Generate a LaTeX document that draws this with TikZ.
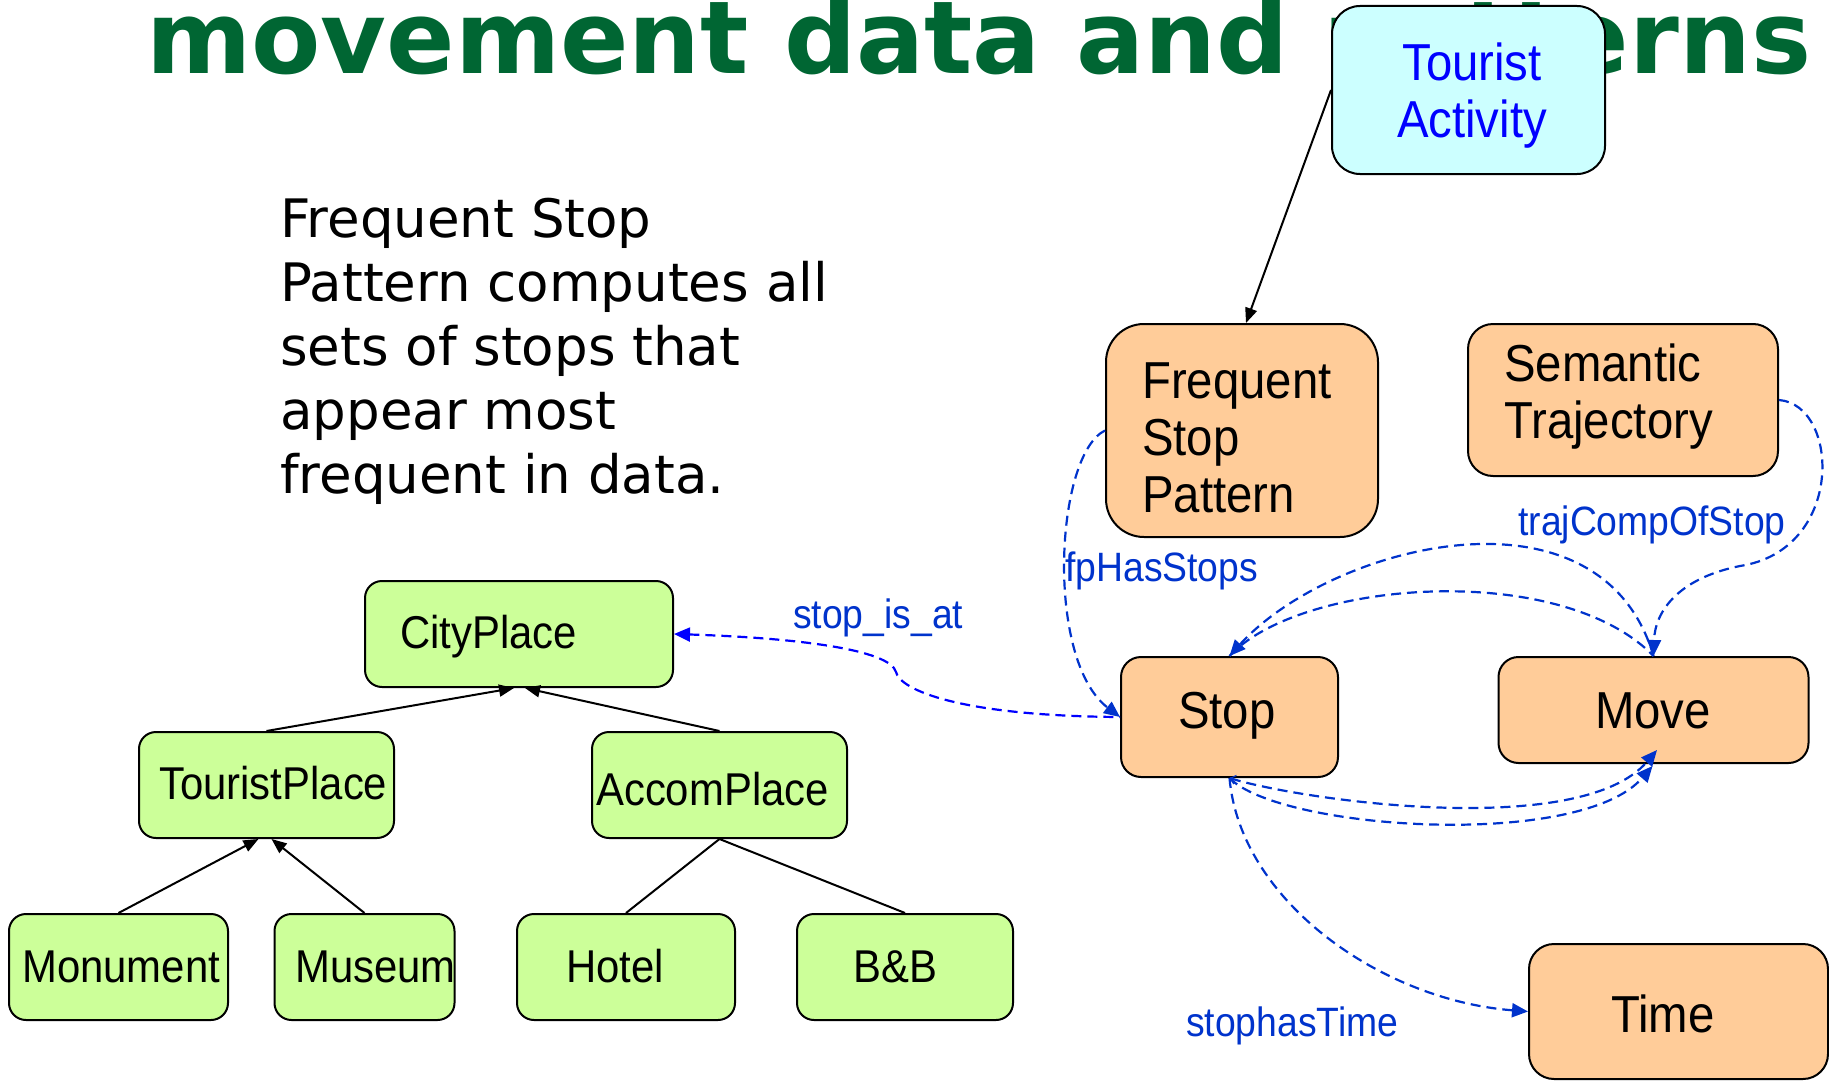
\documentclass[tikz,border=0pt]{standalone}
\usepackage{fontspec}
\setmainfont{DejaVu Sans}
\newfontfamily\nf[FakeStretch=0.91]{Liberation Sans}
\usetikzlibrary{arrows.meta,calc}
\definecolor{gfill}{RGB}{204,255,153}
\definecolor{ofill}{RGB}{255,204,153}
\definecolor{cfill}{RGB}{204,255,255}
\definecolor{tgreen}{RGB}{0,102,51}
\definecolor{lblue}{RGB}{0,51,204}
\definecolor{pblue}{RGB}{0,0,255}
\begin{document}
\begin{tikzpicture}[x=1pt,y=-1pt,
  box/.style={draw=black, line width=2pt, rectangle, inner sep=0pt},
  gbox/.style={box, fill=gfill, rounded corners=17pt, minimum height=106pt},
  obox/.style={box, fill=ofill},
  ntxt/.style={font=\nf\fontsize{52}{57}\selectfont, inner sep=0pt, align=left},
  gtxt/.style={font=\nf\fontsize{46}{50}\selectfont, inner sep=0pt, anchor=base west},
  lbl/.style={font=\nf\fontsize{41}{45}\selectfont, text=lblue, inner sep=0pt, anchor=base west},
  rel/.style={draw=lblue, line width=2.2pt, dash pattern=on 10pt off 6pt},
  btip/.style={-{Triangle[length=16pt,width=14pt]}},
  blk/.style={draw=black, line width=2pt},
  ktip/.style={-{Triangle[length=15pt,width=12pt]}}
]
\useasboundingbox (0,0) rectangle (1829,1081);
% title
\node[font=\bfseries\fontsize{101}{110}\selectfont, text=tgreen, anchor=base west, inner sep=0pt] (title) at (146,74) {movement data and patterns};
% paragraph (base anchor = last line)
\node[font=\fontsize{53}{64}\selectfont, anchor=base west, align=left, inner sep=0pt] (para) at (280,493)
  {Frequent Stop\\Pattern computes all\\sets of stops that\\appear most\\frequent in data.};
% orange / cyan boxes
\node[box, fill=cfill, rounded corners=28pt, minimum width=273pt, minimum height=168pt] (ta) at (1468.5,90) {};
\node[ntxt, text=pblue, align=center, anchor=base] (taT) at (1472,137) {Tourist\\Activity};
\node[obox, rounded corners=38pt, minimum width=272pt, minimum height=213pt] (fsp) at (1242,430.5) {};
\node[ntxt, anchor=base west] (fspT) at (1142,512) {Frequent\\Stop\\Pattern};
\node[obox, rounded corners=25pt, minimum width=310pt, minimum height=152pt] (st) at (1623,400) {};
\node[ntxt, anchor=base west] (stT) at (1504,438) {Semantic\\Trajectory};
\node[obox, rounded corners=20pt, minimum width=217pt, minimum height=120pt] (stop) at (1229.5,717) {};
\node[ntxt, anchor=base west] (stopT) at (1178,728) {Stop};
\node[obox, rounded corners=20pt, minimum width=310pt, minimum height=106pt] (move) at (1653.5,710) {};
\node[ntxt, anchor=base west] (moveT) at (1595,728) {Move};
\node[obox, rounded corners=25pt, minimum width=299pt, minimum height=135pt] (time) at (1678.5,1011.5) {};
\node[ntxt, anchor=base west] (timeT) at (1611,1032) {Time};
% green boxes
\node[gbox, minimum width=308pt] (cp) at (519,634) {};
\node[gtxt] (cpT) at (400,648) {CityPlace};
\node[gbox, minimum width=255pt] (tp) at (266.5,785) {};
\node[gtxt] (tpT) at (159,799) {TouristPlace};
\node[gbox, minimum width=255pt] (ap) at (719.5,785) {};
\node[gtxt] (apT) at (596,805) {AccomPlace};
\node[gbox, minimum width=219pt] (mon) at (118.5,967) {};
\node[gtxt] (monT) at (22,982) {Monument};
\node[gbox, minimum width=180pt] (mus) at (364.5,967) {};
\node[gtxt] (musT) at (295,982) {Museum};
\node[gbox, minimum width=218pt] (hot) at (626,967) {};
\node[gtxt] (hotT) at (566,982) {Hotel};
\node[gbox, minimum width=216pt] (bb) at (905,967) {};
\node[gtxt] (bbT) at (853,982) {B\&B};
% black connectors
\draw[blk, ktip] (ta.west) -- ([xshift=4pt]fsp.north);
\draw[blk, ktip] (tp.north) -- ([xshift=-5pt]cp.south);
\draw[blk, ktip] (ap.north) -- ([xshift=6pt]cp.south);
\draw[blk, ktip] (mon.north) -- ([xshift=-8pt]tp.south);
\draw[blk, ktip] (mus.north) -- ([xshift=5pt]tp.south);
\draw[blk] (hot.north) -- (ap.south);
\draw[blk] (bb.north) -- (ap.south);
% dashed relations
\draw[rel, draw=pblue, {Triangle[length=16pt,width=14pt]}-] (cp.east) .. controls (800,638) and (890,650) .. (896,672) .. controls (900,690) and (960,716) .. (stop.west);
\draw[rel, btip] (fsp.west) .. controls (1055,455) and (1045,660) .. (stop.west);
\draw[rel, btip] (st.east) .. controls (1840,405) and (1845,550) .. (1740,566) .. controls (1680,578) and (1655,610) .. (move.north);
\draw[rel, btip] (move.north) .. controls (1600,475) and (1330,545) .. (stop.north);
\draw[rel] (stop.north) .. controls (1300,580) and (1560,560) .. (move.north);
\draw[rel, {Straight Barb[length=5pt,width=9pt,line width=1.2pt]}-{Triangle[length=16pt,width=14pt]}] (stop.south) .. controls (1300,800) and (1580,840) .. ([xshift=3.5pt,yshift=14pt]move.south);
\draw[rel, btip] (stop.south) .. controls (1280,830) and (1580,850) .. ([xshift=-1pt,yshift=-2pt]move.south);
\draw[rel, btip] (stop.south) .. controls (1240,900) and (1380,1000) .. (time.west);
% labels
\node[lbl] (l1) at (793,628) {stop\_is\_at};
\node[lbl] (l2) at (1065,581) {fpHasStops};
\node[lbl] (l3) at (1518,535) {trajCompOfStop};
\node[lbl] (l4) at (1186,1036) {stophasTime};
\end{tikzpicture}
\end{document}
